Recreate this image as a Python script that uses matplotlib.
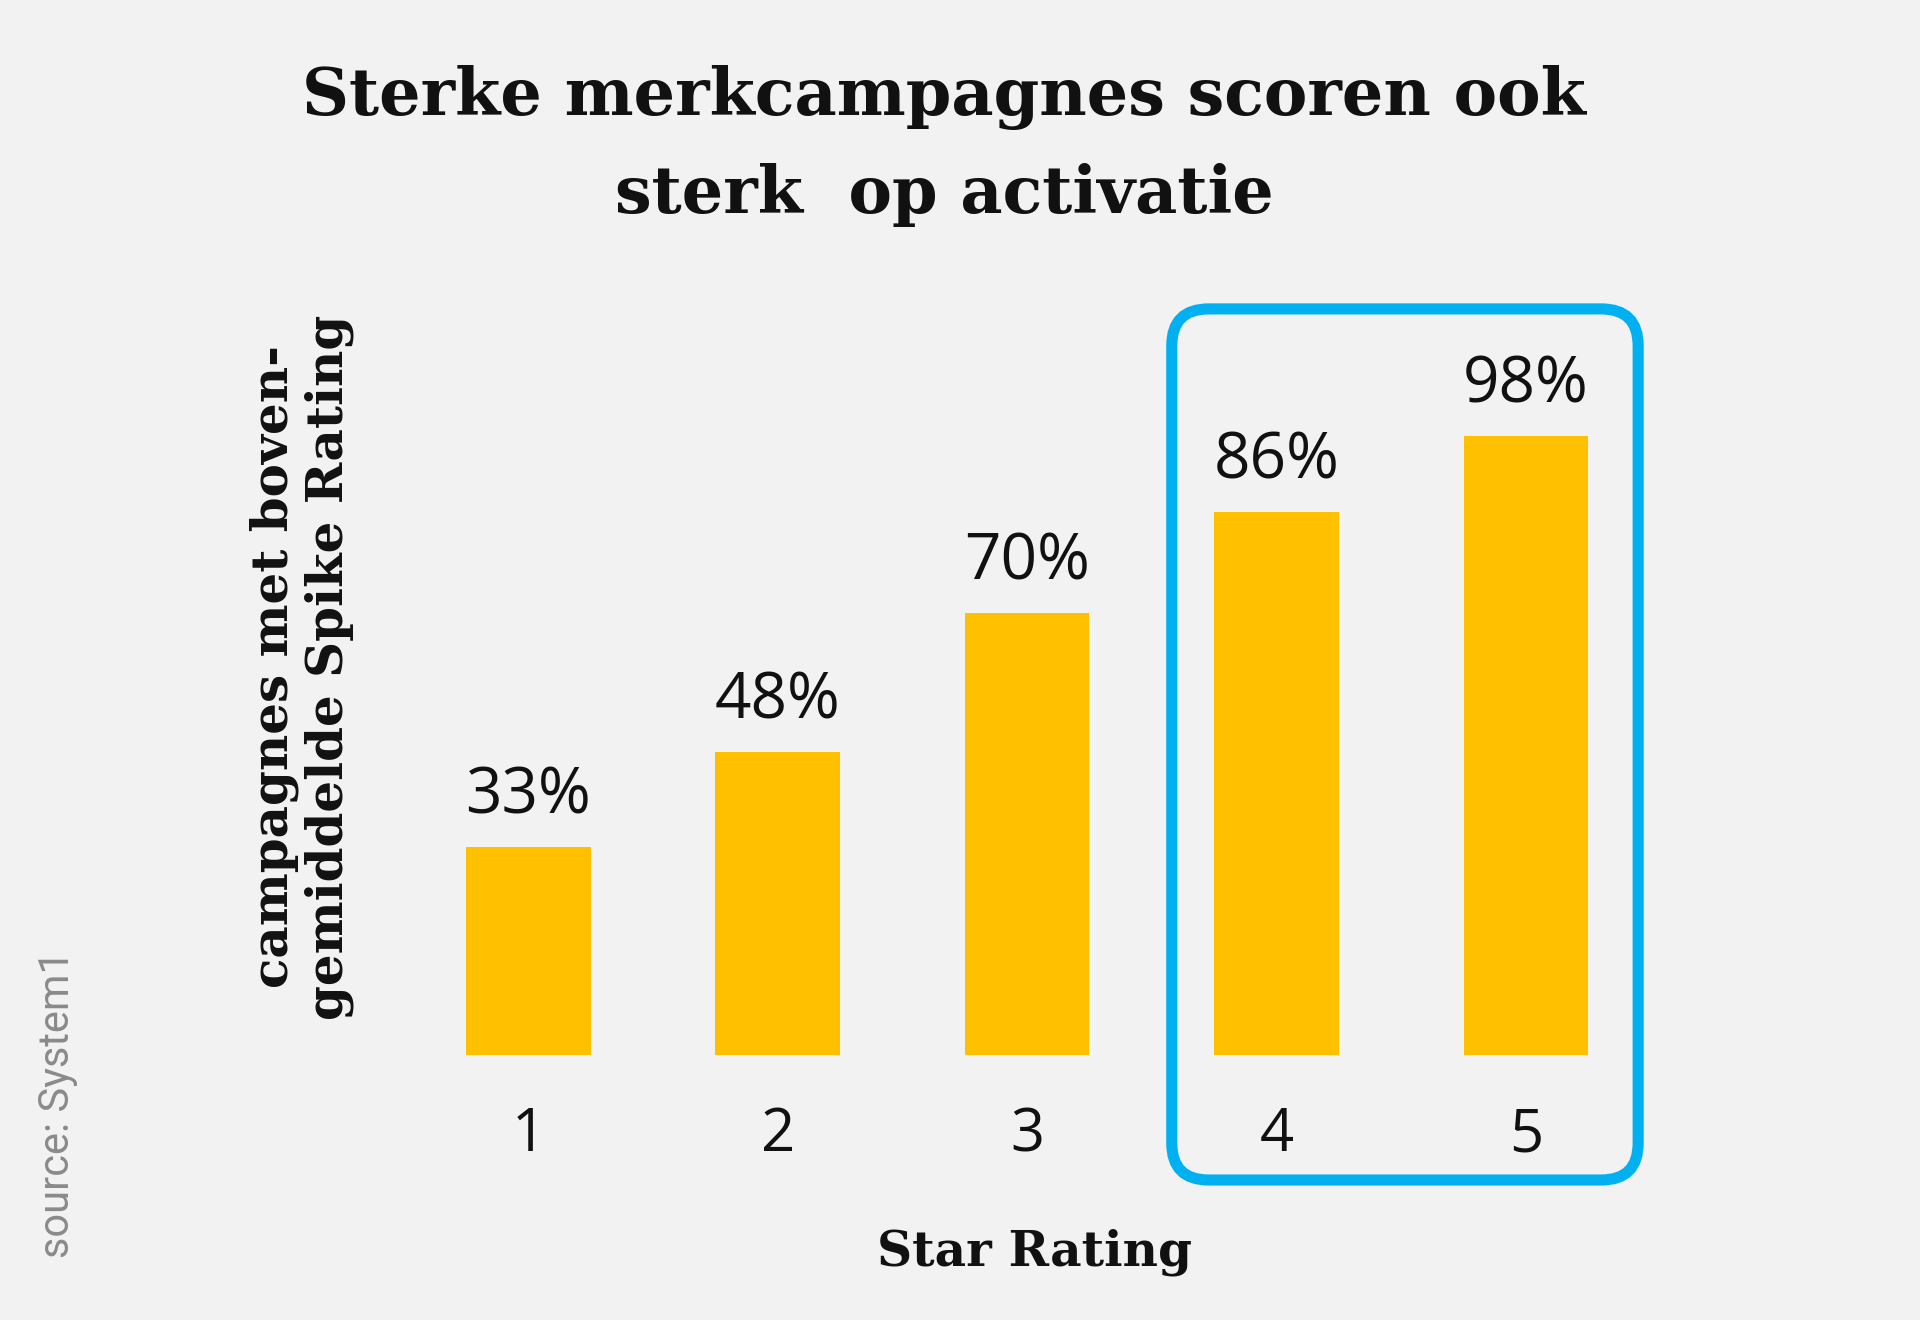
import matplotlib
matplotlib.use("Agg")
import matplotlib.pyplot as plt
from matplotlib.patches import FancyBboxPatch
from matplotlib.transforms import IdentityTransform

# ---- data ----
categories = ["1", "2", "3", "4", "5"]
values = [33, 48, 70, 86, 98]
value_labels = ["33%", "48%", "70%", "86%", "98%"]
title_lines = ["Sterke merkcampagnes scoren ook", "sterk  op activatie"]
ylabel_text = "campagnes met boven-\ngemiddelde Spike Rating"
xlabel_text = "Star Rating"
source_text = "source: System1"
highlight = (3.58, 5.45)  # star ratings highlighted by the box

BG = "#f2f2f2"
BAR = "#ffc000"
BLUE = "#00b0f0"
SLAB = ["DejaVu Serif"]
SANS = ["Open Sans", "DejaVu Sans"]

fig = plt.figure(figsize=(19.2, 13.2), dpi=100, facecolor=BG)
ax = fig.add_axes([0.2102, 0.2004, 0.6495, 0.4789])
ax.set_facecolor(BG)

x = list(range(1, len(categories) + 1))
ax.bar(x, values, width=0.5, color=BAR, zorder=2)
ax.set_xlim(0.5, len(categories) + 0.5)
ax.set_ylim(0, 100)

for xi, v, lab in zip(x, values, value_labels):
    ax.annotate(lab, (xi, v), xytext=(0, 24), textcoords="offset points",
                ha="center", va="baseline", fontsize=46, family=SANS, color="#111111")

ax.set_xticks(x)
ax.set_xticklabels(categories, family=SANS, fontsize=43, color="#111111")
ax.tick_params(axis="x", length=0, pad=36)
ax.set_yticks([])
for s in ax.spines.values():
    s.set_visible(False)

# titles
fig.text(0.4917, 0.913, title_lines[0], ha="center", va="baseline",
         family=SLAB, fontweight="bold", fontsize=47, color="#111111")
fig.text(0.4917, 0.839, title_lines[1], ha="center", va="baseline",
         family=SLAB, fontweight="bold", fontsize=47, color="#111111")

fig.text(0.539, 0.041, xlabel_text, ha="center", va="baseline",
         family=SLAB, fontweight="bold", fontsize=35, color="#111111")

fig.text(0.157, 0.4947, ylabel_text, ha="center", va="center", rotation=90,
         multialignment="center", family=SLAB, fontweight="bold", fontsize=36,
         color="#111111", linespacing=1.15)

fig.text(0.030, 0.1636, source_text, ha="center", va="center", rotation=90,
         family=["Roboto", "DejaVu Sans"], fontweight="normal", fontsize=30, color="#8a8a8a")

# highlight box
(x0, y0) = ax.transData.transform((highlight[0], -19.7))
(x1, y1) = ax.transData.transform((highlight[1], 118.1))
box = FancyBboxPatch((x0, y0), x1 - x0, y1 - y0,
                     boxstyle="round,pad=0,rounding_size=37",
                     linewidth=8, edgecolor=BLUE, facecolor="none",
                     transform=IdentityTransform(), zorder=5)
fig.add_artist(box)

fig.savefig("out.png", dpi=100, facecolor=BG)
